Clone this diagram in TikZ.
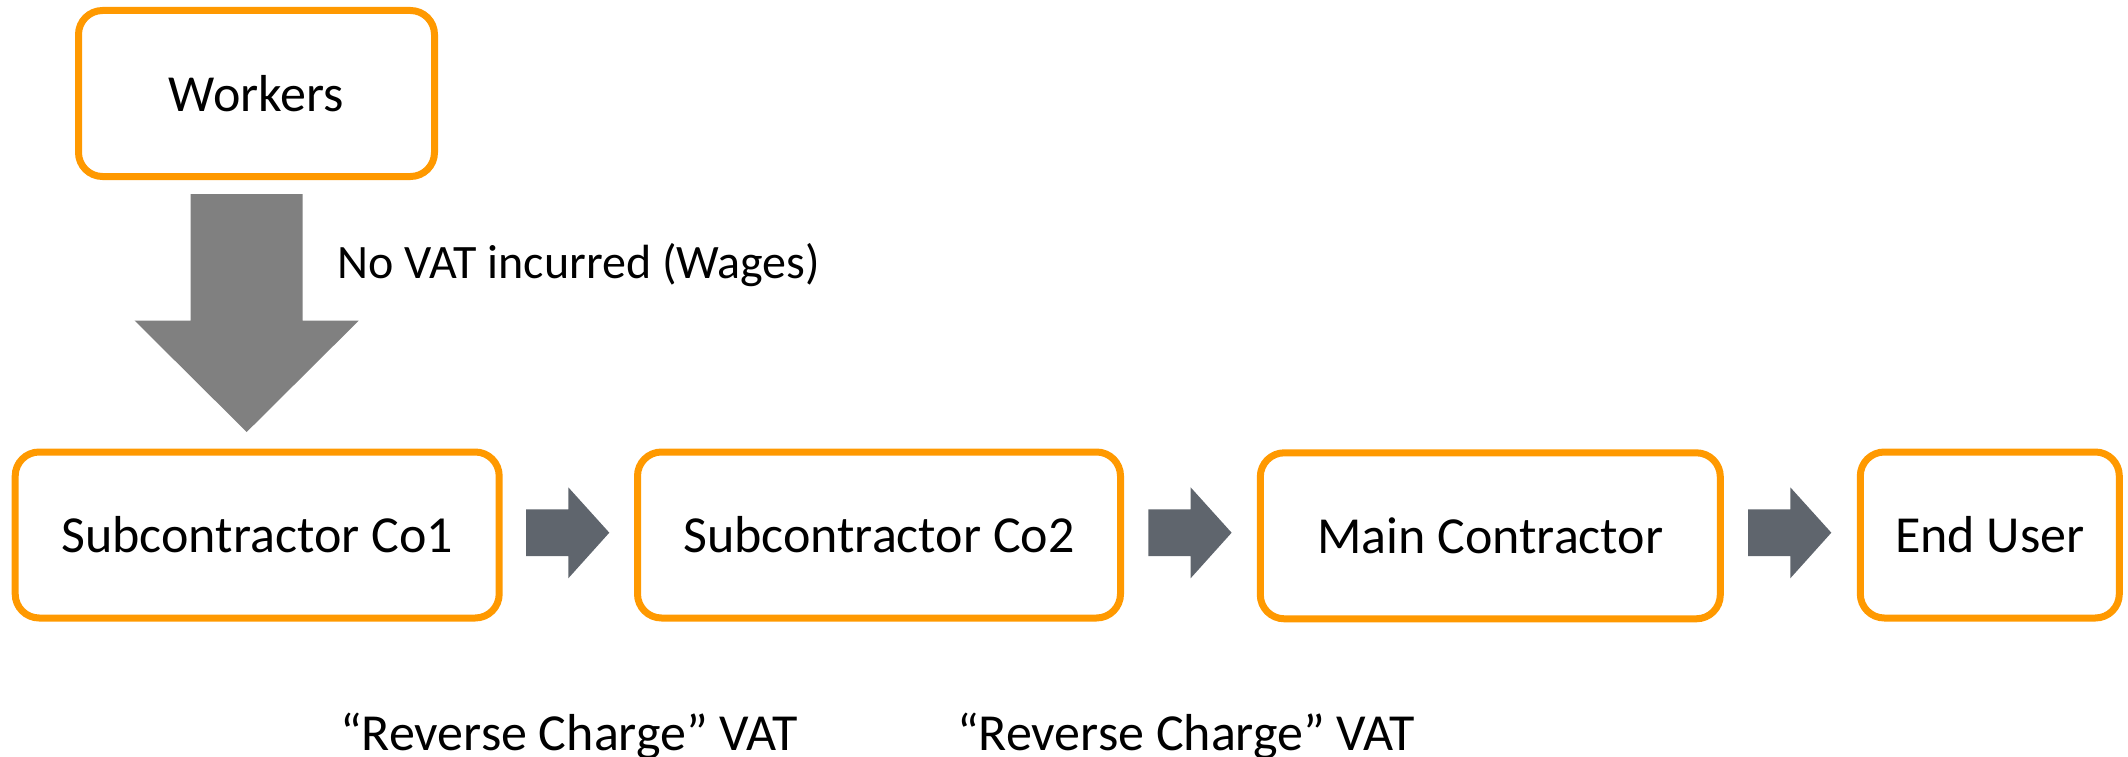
\documentclass[tikz,border=0pt]{standalone}
\usepackage{fontspec}
\setmainfont{Carlito}
\usetikzlibrary{calc}
\definecolor{boxorange}{RGB}{255,153,0}
\definecolor{arrowslate}{RGB}{95,101,109}
\definecolor{arrowgray}{RGB}{128,128,128}
\tikzset{
  partybox/.style={draw=boxorange, line width=7pt, rounded corners=24pt, fill=white,
    minimum height=166pt, inner sep=0pt, font=\fontsize{52}{60}\selectfont},
  labeltext/.style={inner sep=0pt, font=\fontsize{52}{60}\selectfont},
  flowarrow/.style={fill=arrowslate, draw=none},
}
\begin{document}
\begin{tikzpicture}[x=1pt,y=-1pt]
\useasboundingbox (0,0) rectangle (2128,757);
\node[partybox, minimum width=356pt] (workers) at (256.5,93.5) {Workers};
\node[partybox, minimum width=484pt] (co1) at (257.2,535) {Subcontractor Co1};
\node[partybox, minimum width=483pt] (co2) at (879,535) {Subcontractor Co2};
\node[partybox, minimum width=460pt] (main) at (1490.3,535.8) {Main Contractor};
\node[partybox, minimum width=259pt] (end) at (1989.8,535) {End User};

% down arrow Workers -> Co1
\fill[arrowgray] (190.7,194) -- (302.7,194) -- (302.7,320.7) -- (358.7,320.7)
  -- (246.7,432) -- (134.7,320.7) -- (190.7,320.7) -- cycle;
\node[labeltext, font=\fontsize{48}{56}\selectfont, anchor=base west] (novat) at (337,278) {No VAT incurred (Wages)};

% right arrows
\foreach \dx/\nm in {0/a1,622.3/a2,1222/a3}{
  \fill[flowarrow] (526+\dx,509.3) -- (568.3+\dx,509.3) -- (568.3+\dx,487.3)
    -- (609.3+\dx,532.7) -- (568.3+\dx,578.3) -- (568.3+\dx,556) -- (526+\dx,556) -- cycle;
}

\node[labeltext, anchor=base west] (rc1) at (340,750) {“Reverse Charge” VAT};
\node[labeltext, anchor=base west] (rc2) at (957,750) {“Reverse Charge” VAT};
\end{tikzpicture}
\end{document}
